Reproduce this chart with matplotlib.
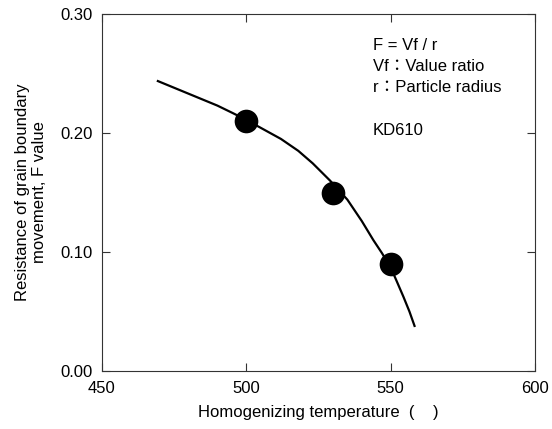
import matplotlib
matplotlib.use("Agg")
import matplotlib.pyplot as plt

plt.rcParams['font.family'] = ['Liberation Sans', 'Noto Sans CJK JP', 'DejaVu Sans']

# Measured data points
temp_points = [500, 530, 550]
f_points = [0.21, 0.15, 0.09]

# Fitted curve
curve_temp = [469, 477, 484, 490, 495.5, 500, 506, 512, 518, 523, 529, 535,
              540, 544, 547, 550, 552, 554.4, 556.5, 558.4]
curve_f = [0.244, 0.236, 0.229, 0.223, 0.2165, 0.211, 0.203, 0.195, 0.185, 0.1745,
           0.160, 0.144, 0.126, 0.110, 0.099, 0.087, 0.076, 0.0625, 0.050, 0.037]

x_ticks = [450, 500, 550, 600]
y_ticks = [0.00, 0.10, 0.20, 0.30]

note_lines = ['F = Vf / r', 'Vf\uff1aValue ratio', 'r\uff1aParticle radius']
grade = 'KD610'

fig = plt.figure(figsize=(5.52, 4.29), dpi=100)
ax = fig.add_axes([102/552, 1 - 371/429, (535-102)/552, (371-14)/429])

ax.plot(curve_temp, curve_f, color='black', lw=1.6, zorder=2,
        solid_joinstyle='round', solid_capstyle='butt')
ax.scatter(temp_points, f_points, s=290, color='black', zorder=3, linewidths=0)

ax.set_xlim(450, 600)
ax.set_ylim(0, 0.30)
ax.set_xticks(x_ticks)
ax.set_yticks(y_ticks)
ax.set_xticklabels([str(t) for t in x_ticks])
ax.set_yticklabels([f"{t:.2f}" for t in y_ticks])
ax.tick_params(direction='in', length=6, width=0.8, top=True, right=True,
               labelsize=12, color='#333333', pad=7)
for s in ax.spines.values():
    s.set_linewidth(0.8)
    s.set_color('#333333')

ax.set_xlabel('Homogenizing temperature  (    )', fontsize=12, labelpad=7)
ax.set_ylabel('Resistance of grain boundary\nmovement, F value', fontsize=12, labelpad=9)

for yfrac, line in zip([0.913, 0.852, 0.793], note_lines):
    ax.text(0.626, yfrac, line, transform=ax.transAxes, fontsize=12,
            va='center', ha='left')
ax.text(0.626, 0.675, grade, transform=ax.transAxes, fontsize=12, va='center', ha='left')

fig.savefig('out.png', dpi=100)
